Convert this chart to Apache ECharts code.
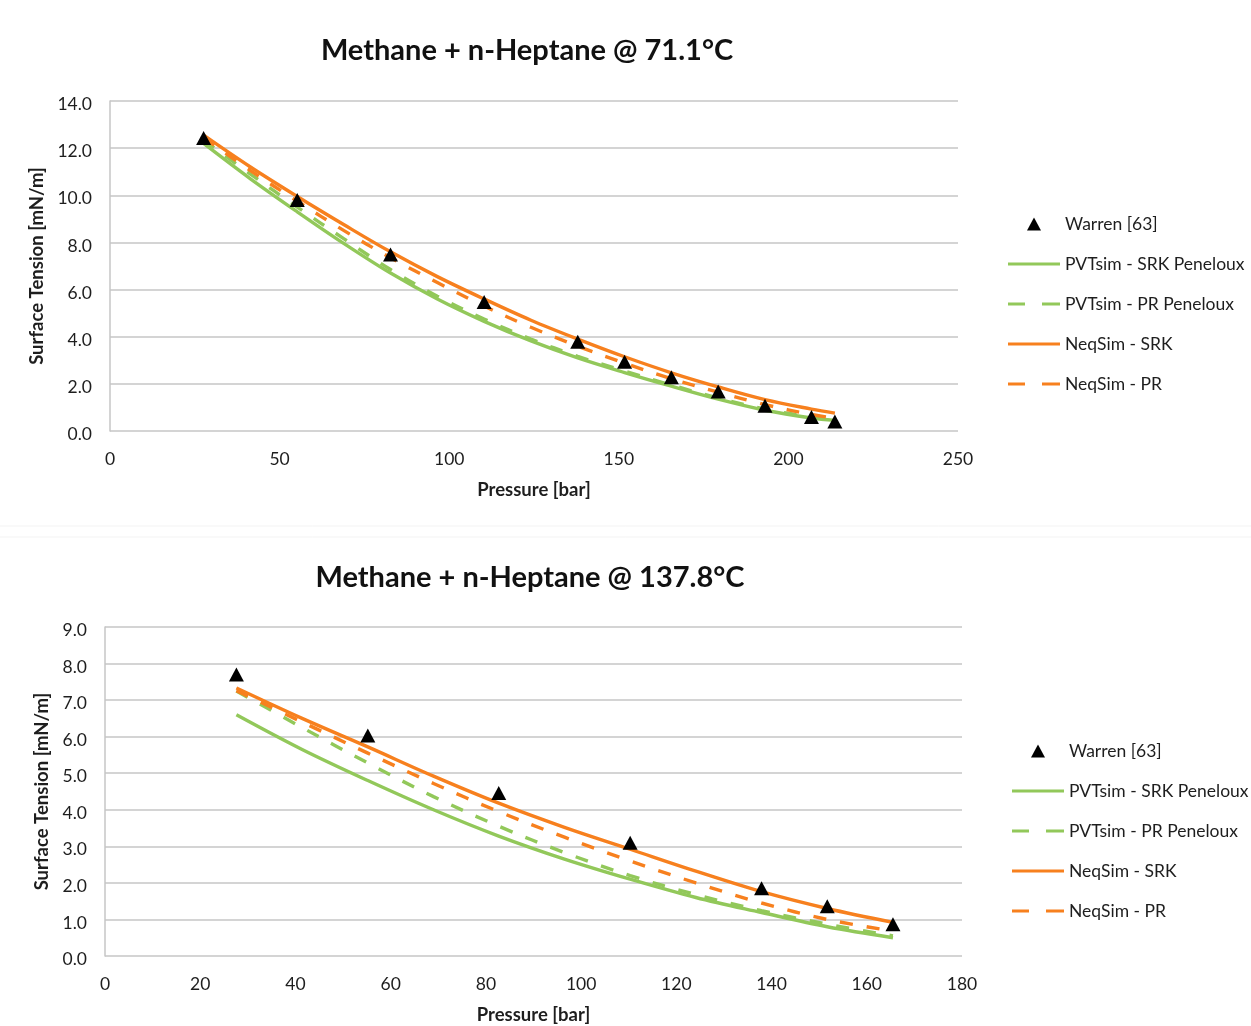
<!DOCTYPE html>
<html>
<head>
<meta charset="utf-8">
<title>Methane + n-Heptane surface tension</title>
<script src="https://cdn.jsdelivr.net/npm/echarts@6/dist/echarts.min.js"></script>
<style>
  html, body { margin: 0; padding: 0; background: #ffffff; }
  #chart { width: 1251px; height: 1026px; }
</style>
</head>
<body>
<div id="chart"></div>
<script>
// ---- 71.1 °C ----
const warrenP_71 = [27.6, 55.2, 82.7, 110.3, 137.9, 151.7, 165.5, 179.3, 193.1, 206.8, 213.7];
const warrenST_71 = [12.43, 9.80, 7.49, 5.47, 3.79, 2.94, 2.28, 1.68, 1.07, 0.59, 0.40];
const modelP_71 = [27.6, 41.4, 55.2, 69.0, 82.7, 96.5, 110.3, 124.1, 137.9, 151.7, 165.5, 179.3, 193.1, 206.8, 213.7];
const pvtSrk_71 = [12.2, 10.7, 9.3, 7.95, 6.7, 5.6, 4.65, 3.82, 3.1, 2.48, 1.9, 1.35, 0.88, 0.55, 0.45];
const pvtPr_71  = [12.35, 10.9, 9.5, 8.15, 6.85, 5.72, 4.75, 3.9, 3.17, 2.54, 1.95, 1.4, 0.93, 0.6, 0.5];
const neqSrk_71 = [12.55, 11.2, 9.95, 8.75, 7.6, 6.55, 5.6, 4.7, 3.9, 3.15, 2.47, 1.87, 1.33, 0.93, 0.76];
const neqPr_71  = [12.45, 11.05, 9.75, 8.5, 7.35, 6.3, 5.3, 4.4, 3.6, 2.88, 2.22, 1.65, 1.12, 0.7, 0.55];

// ---- 137.8 °C ----
const warrenP_137 = [27.6, 55.2, 82.7, 110.3, 137.9, 151.7, 165.5];
const warrenST_137 = [7.70, 6.03, 4.46, 3.10, 1.85, 1.36, 0.87];
const modelP_137 = [27.6, 41.4, 55.2, 69.0, 82.7, 96.5, 110.3, 124.1, 137.9, 151.7, 165.5];
const pvtSrk_137 = [6.6, 5.65, 4.8, 4.0, 3.28, 2.65, 2.1, 1.6, 1.19, 0.8, 0.5];
const pvtPr_137  = [7.25, 6.25, 5.28, 4.36, 3.55, 2.83, 2.2, 1.68, 1.24, 0.87, 0.55];
const neqSrk_137 = [7.33, 6.5, 5.72, 4.92, 4.18, 3.52, 2.92, 2.32, 1.76, 1.3, 0.92];
const neqPr_137  = [7.26, 6.4, 5.55, 4.72, 3.95, 3.25, 2.6, 2.0, 1.45, 1.0, 0.68];

const titles = ['Methane + n-Heptane @ 71.1\u00b0C', 'Methane + n-Heptane @ 137.8\u00b0C'];
const seriesNames = ['Warren [63]', 'PVTsim - SRK Peneloux', 'PVTsim - PR Peneloux', 'NeqSim - SRK', 'NeqSim - PR'];
const xAxisName = 'Pressure [bar]';
const yAxisName = 'Surface Tension [mN/m]';

const FONT = 'Lato, "Open Sans", sans-serif';
const GREEN = '#92c85a';
const ORANGE = '#f7801e';
const GRID_COLOR = '#c6c6c6';
const TEXT = '#1e1e1e';

// legend glyphs: a solid stroke, a two-dash stroke, and a small triangle
const ICON_SOLID = 'path://M0,0H52V3H0Z';
const ICON_DASH = 'path://M0,0H17V3H0ZM34,0H52V3H34Z';
const ICON_TRI = 'path://M7,0L14,13L0,13Z';

const pairs = (xs, ys) => xs.map((x, i) => [x, ys[i]]);

function curve(name, xs, ys, color, dashed, idx) {
  return {
    name: name,
    type: 'line',
    xAxisIndex: idx,
    yAxisIndex: idx,
    data: pairs(xs, ys),
    smooth: 0.35,
    symbol: 'none',
    lineStyle: { color: color, width: 3.4, type: dashed ? [13, 14] : 'solid', cap: 'butt' },
    itemStyle: { color: color },
    z: 2
  };
}

function points(xs, ys, idx) {
  return {
    name: seriesNames[0],
    type: 'scatter',
    xAxisIndex: idx,
    yAxisIndex: idx,
    data: pairs(xs, ys),
    symbol: 'triangle',
    symbolSize: [15, 14],
    itemStyle: { color: '#000000', opacity: 1 },
    z: 5
  };
}

function xAxisDef(idx, max, interval) {
  return {
    type: 'value', gridIndex: idx, min: 0, max: max, interval: interval,
    name: xAxisName, nameLocation: 'middle', nameGap: 50,
    nameTextStyle: { fontFamily: FONT, fontSize: 18.5, fontWeight: 'bold', color: TEXT },
    axisLine: { show: false },
    axisTick: { show: false },
    splitLine: { show: false },
    axisLabel: { fontFamily: FONT, fontSize: 17.5, color: TEXT, margin: 19 }
  };
}

function yAxisDef(idx, max, interval, gap) {
  return {
    type: 'value', gridIndex: idx, min: 0, max: max, interval: interval,
    name: yAxisName, nameLocation: 'middle', nameGap: gap, nameRotate: 90,
    nameTextStyle: { fontFamily: FONT, fontSize: 18.5, fontWeight: 'bold', color: TEXT },
    axisLine: { show: true, lineStyle: { color: GRID_COLOR, width: 1.5 } },
    axisTick: { show: false },
    splitLine: { show: true, lineStyle: { color: GRID_COLOR, width: 1.5 } },
    // labels sit a few pixels below their gridline
    axisLabel: { fontFamily: FONT, fontSize: 17.5, color: TEXT, margin: 18,
                 verticalAlign: 'top', lineHeight: 7,
                 formatter: v => v.toFixed(1) }
  };
}

function legendDef(left, top) {
  return {
    orient: 'vertical', left: left, top: top, padding: 0,
    itemWidth: 52, itemHeight: 13, itemGap: 22,
    selectedMode: false,
    textStyle: { fontFamily: FONT, fontSize: 17.5, color: TEXT, lineHeight: 17 },
    data: [
      { name: seriesNames[0], icon: ICON_TRI },
      { name: seriesNames[1], icon: ICON_SOLID },
      { name: seriesNames[2], icon: ICON_DASH },
      { name: seriesNames[3], icon: ICON_SOLID },
      { name: seriesNames[4], icon: ICON_DASH }
    ]
  };
}

const option = {
  backgroundColor: '#ffffff',
  animation: false,
  title: [
    { text: titles[0], left: 527, top: 36, textAlign: 'center', padding: 0,
      textStyle: { fontFamily: FONT, fontSize: 29, fontWeight: 'bold', color: '#111111' } },
    { text: titles[1], left: 530, top: 563, textAlign: 'center', padding: 0,
      textStyle: { fontFamily: FONT, fontSize: 29, fontWeight: 'bold', color: '#111111' } }
  ],
  graphic: [
    { type: 'line', shape: { x1: 0, y1: 526, x2: 1251, y2: 526 }, style: { stroke: '#f3f3f3', lineWidth: 1 } },
    { type: 'line', shape: { x1: 0, y1: 537, x2: 1251, y2: 537 }, style: { stroke: '#f3f3f3', lineWidth: 1 } }
  ],
  legend: [legendDef(1008, 215), legendDef(1012, 742)],
  grid: [
    { left: 110, top: 101, width: 848, height: 330 },
    { left: 105, top: 627, width: 857, height: 330 }
  ],
  xAxis: [xAxisDef(0, 250, 50), xAxisDef(1, 180, 20)],
  yAxis: [yAxisDef(0, 14, 2, 57), yAxisDef(1, 9, 1, 48)],
  series: [
    curve(seriesNames[1], modelP_71, pvtSrk_71, GREEN, false, 0),
    curve(seriesNames[2], modelP_71, pvtPr_71, GREEN, true, 0),
    curve(seriesNames[3], modelP_71, neqSrk_71, ORANGE, false, 0),
    curve(seriesNames[4], modelP_71, neqPr_71, ORANGE, true, 0),
    points(warrenP_71, warrenST_71, 0),
    curve(seriesNames[1], modelP_137, pvtSrk_137, GREEN, false, 1),
    curve(seriesNames[2], modelP_137, pvtPr_137, GREEN, true, 1),
    curve(seriesNames[3], modelP_137, neqSrk_137, ORANGE, false, 1),
    curve(seriesNames[4], modelP_137, neqPr_137, ORANGE, true, 1),
    points(warrenP_137, warrenST_137, 1)
  ]
};

const chart = echarts.init(document.getElementById('chart'), null, { renderer: 'canvas' });
chart.setOption(option);
</script>
</body>
</html>
